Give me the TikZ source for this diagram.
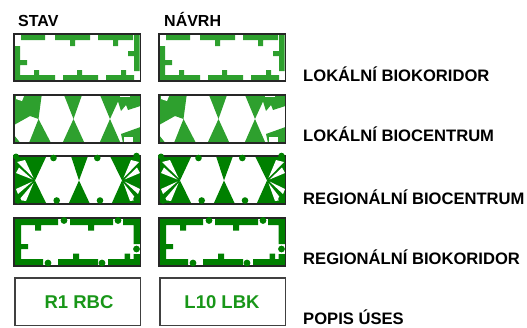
\documentclass[tikz,border=0pt]{standalone}
\usepackage{fontspec}
\setmainfont{Liberation Sans}
\definecolor{gA}{RGB}{46,160,46}
\definecolor{gB}{RGB}{0,128,0}
\definecolor{gT}{RGB}{24,150,24}
\newcommand\patLBK{%
  \fill[gA] (21,35) rectangle (45,40) (55,35) rectangle (90,40) (98,35) rectangle (133,40)
    (70,40) rectangle (75,46) (113,40) rectangle (118,46)
    (134,35) rectangle (139.5,71) (128,51) rectangle (134,56)
    (15,75) rectangle (55,80.5) (63,75) rectangle (98,80.5) (106,75) rectangle (134,80.5)
    (34,70) rectangle (39,75) (77,70) rectangle (82,75) (121,70) rectangle (126,75)
    (15,46) rectangle (20,80.5) (20,60) rectangle (27,65);}
\newcommand\patLBC{%
  \fill[gA] (29,143) -- (51,143) -- (38.5,119) -- cycle
    (64,95) -- (82,95) -- (73.5,119) -- cycle
    (62.5,143) -- (84.5,143) -- (73.5,119) -- cycle
    (100,95) -- (121,95) -- (110,119) -- cycle
    (99.5,143) -- (120.5,143) -- (110,119) -- cycle;
  \fill[gA] (14,95) -- (41.7,95) -- (38.5,119) -- (30,116) -- (14,125) -- cycle;
  \fill[white] (16,96) -- (24,96) -- (22,101) -- (16,99) -- cycle;
  \fill[gA] (14,135) -- (20,142.5) -- (14,142.5) -- cycle;
  \fill[gA] (116,95) -- (140.5,95) -- (140.5,106) -- (128,110) -- (126,105) -- (121,111) -- cycle;
  \fill[white] (120,95.5) rectangle (130,97.3);
  \fill[gA] (121,134) -- (140.5,127) -- (140.5,143) -- (123,143) -- cycle;
  \fill[white] (123.5,137) rectangle (133,142);}
\newcommand\patRBC{%
  \fill[gB] (35,180.5) -- (46.5,156) -- (23.5,156) -- cycle
    (35,180.5) -- (46.5,204) -- (23.5,204) -- cycle
    (79,180.5) -- (71,156) -- (88,156) -- cycle
    (79,180.5) -- (68.5,204) -- (90,204) -- cycle
    (122,180.5) -- (110,156) -- (134,156) -- cycle
    (122,180.5) -- (111.5,204) -- (134,204) -- cycle;
  \fill[gB] (14,156) -- (28,156) -- (35,180.5) -- (26,204) -- (14,204) -- cycle;
  \fill[gB] (140.5,156) -- (128,156) -- (122,180.5) -- (130,204) -- (140.5,204) -- cycle;
  \fill[white] (17,162) -- (25,160) -- (33.5,178) -- cycle
    (16,173) -- (19,167.5) -- (32.5,179.5) -- cycle
    (16,189) -- (32.5,181.5) -- (18,194) -- cycle
    (19,200) -- (26,201) -- (33.5,183) -- cycle;
  \fill[white] (139,162) -- (131,160) -- (123.5,178) -- cycle
    (140,173) -- (137,167.5) -- (124.5,179.5) -- cycle
    (140,189) -- (124.5,181.5) -- (138,194) -- cycle
    (137,200) -- (130,201) -- (123.5,183) -- cycle;}
\newcommand\dotsRBC{%
  \fill[gB] (16,156.5) circle (3) (18,200.5) circle (3.3) (136.5,156) circle (3.3) (136.5,199) circle (3.3)
    (53.5,158) circle (3.3) (97.3,158) circle (3.3) (56.7,200.5) circle (3.3) (100,200.5) circle (3.3);}
\newcommand\patRBK{%
  \fill[gB] (14.5,218.5) rectangle (58,225) (70,218.5) rectangle (113,225) (123,218.5) rectangle (140.5,225)
    (35,225) rectangle (41,230.5) (88,225) rectangle (94,230.5)
    (133.5,218.5) rectangle (140.5,244) (133.5,254) rectangle (140.5,265.5)
    (14.5,259) rectangle (43,265.5) (58,259) rectangle (98,265.5) (108,259) rectangle (140.5,265.5)
    (73,253.5) rectangle (79,259) (124.5,253.5) rectangle (130,259)
    (14.5,218.5) rectangle (21,265.5) (21,244) rectangle (28,249);}
\newcommand\dotsRBK{%
  \fill[gB] (64,220.5) circle (3.4) (118,220.5) circle (3.4) (48,263) circle (3.4) (102,263) circle (3.4)
    (136.5,249) circle (3.4);}
\newcommand\legendcol{%
  \patLBK \draw[frame] (14,34) rectangle (140.5,81);
  \patLBC \draw[frame] (14,95) rectangle (140.5,143);
  \patRBC \draw[frame] (14,156) rectangle (140.5,204); \dotsRBC
  \patRBK \draw[frame] (14,218) rectangle (140.5,266); \dotsRBK
  \draw[frame2] (15,278) rectangle (140.5,325.5);}
\begin{document}
\begin{tikzpicture}[x=1pt,y=-1pt,
  frame/.style={draw=black!85,line width=1.4pt},
  frame2/.style={draw=black!75,line width=1.3pt},
  lab/.style={font=\fontsize{16.6}{19}\selectfont\bfseries,inner sep=0pt,text=black},
  hdr/.style={font=\fontsize{16}{19}\selectfont\bfseries,inner sep=0pt,text=black},
  boxtxt/.style={font=\fontsize{18.5}{22}\selectfont\bfseries,inner sep=0pt,text=gT}]
\useasboundingbox (0,0) rectangle (527,327);
\legendcol
\begin{scope}[xshift=145pt]
\legendcol
\end{scope}
\node[hdr,anchor=base west] (hstav) at (18,26) {STAV};
\node[hdr,anchor=base west] (hnavrh) at (164,26) {NÁVRH};
\node[boxtxt] (t1) at (79,302) {R1 RBC};
\node[boxtxt] (t2) at (222,302) {L10 LBK};
\node[lab,anchor=base west] (l1) at (303,81.5) {LOKÁLNÍ BIOKORIDOR};
\node[lab,anchor=base west] (l2) at (303,141.7) {LOKÁLNÍ BIOCENTRUM};
\node[lab,anchor=base west] (l3) at (303,204) {REGIONÁLNÍ BIOCENTRUM};
\node[lab,anchor=base west] (l4) at (303,264.5) {REGIONÁLNÍ BIOKORIDOR};
\node[lab,anchor=base west] (l5) at (303,324.5) {POPIS ÚSES};
\end{tikzpicture}
\end{document}
